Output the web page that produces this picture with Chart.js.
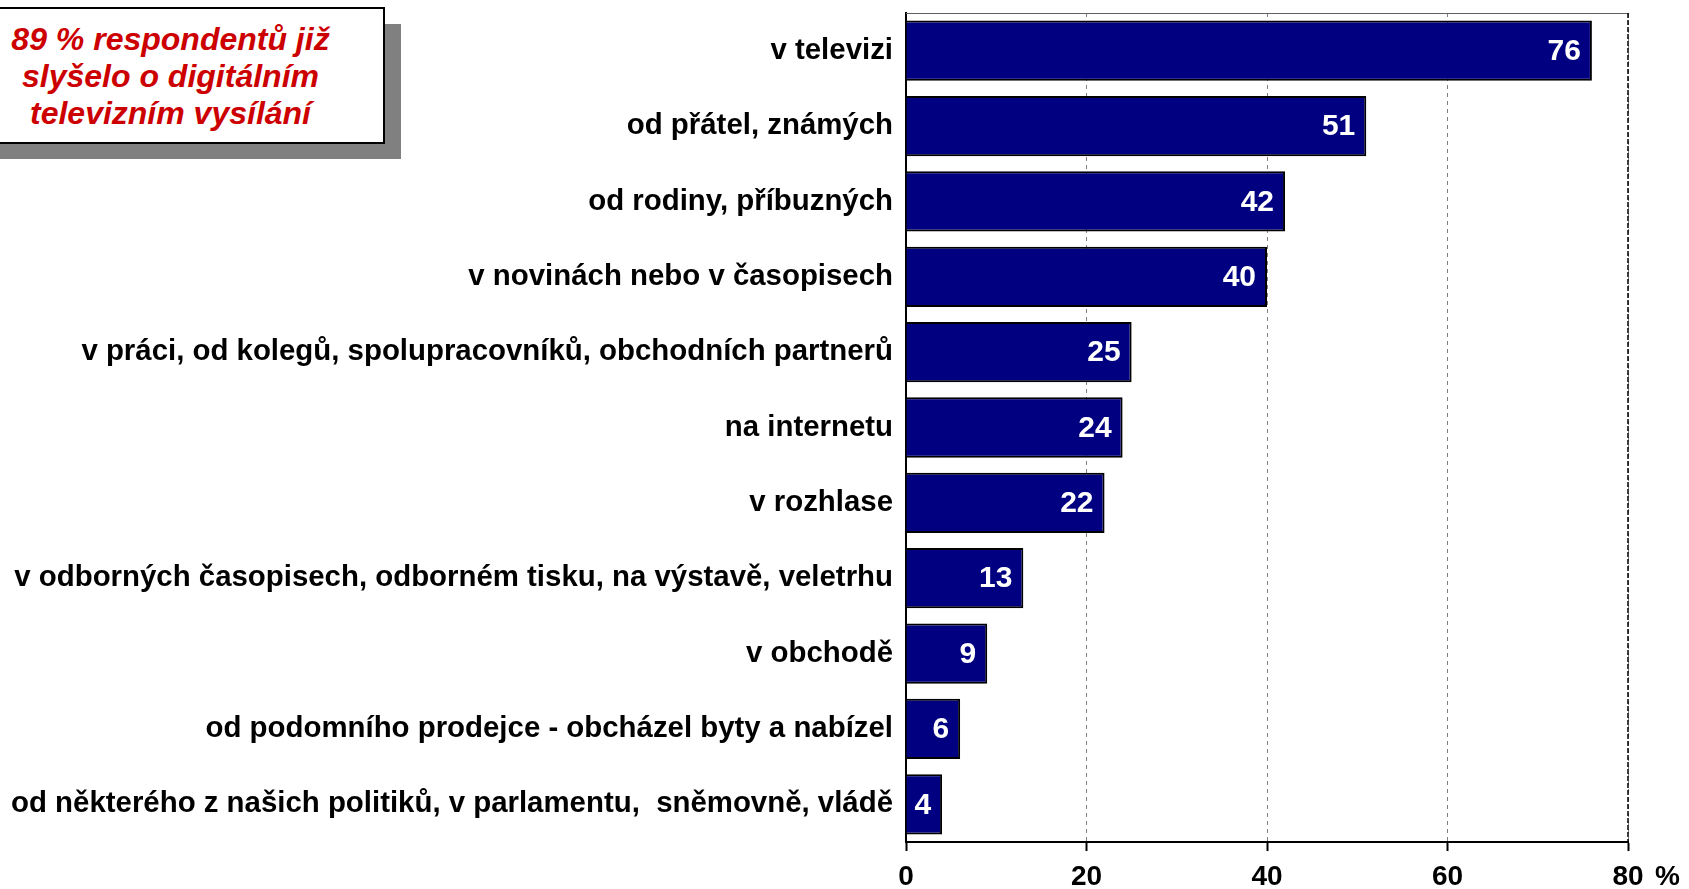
<!DOCTYPE html>
<html>
<head>
<meta charset="utf-8">
<script src="https://cdn.jsdelivr.net/npm/chart.js@4.4.0/dist/chart.umd.min.js"></script>
<style>
  html, body { margin: 0; padding: 0; background: #fff; }
  #wrap { position: relative; width: 1689px; height: 889px; }
  #note-shadow { position: absolute; left: 0px; top: 24px; width: 401px; height: 135px; background: #808080; }
  #note { position: absolute; left: -2px; top: 7px; width: 387px; height: 137px; background: #fff; border: 2px solid #000; box-sizing: border-box;
    font-family: "Liberation Sans", Arial, sans-serif; font-weight: bold; font-style: italic; color: #cc0000; font-size: 32px; line-height: 37px;
    text-align: center; padding-top: 12px; padding-right: 42px; white-space: nowrap; }
</style>
</head>
<body>
<div id="wrap">
  <canvas id="c" width="1689" height="889"></canvas>
  <div id="note-shadow"></div>
  <div id="note">89 % respondentů již<br>slyšelo o digitálním<br>televizním vysílání</div>
</div>
<script>
const categories = [
  "v televizi",
  "od přátel, známých",
  "od rodiny, příbuzných",
  "v novinách nebo v časopisech",
  "v práci, od kolegů, spolupracovníků, obchodních partnerů",
  "na internetu",
  "v rozhlase",
  "v odborných časopisech, odborném tisku, na výstavě, veletrhu",
  "v obchodě",
  "od podomního prodejce - obcházel byty a nabízel",
  "od některého z našich politiků, v parlamentu,  sněmovně, vládě"
];
const values = [76, 51, 42, 40, 25, 24, 22, 13, 9, 6, 4];
const xTicks = [0, 20, 40, 60, 80];
const unitLabel = "%";

const FONT = '"Liberation Sans", Arial, sans-serif';

const valueLabels = {
  id: 'valueLabels',
  afterDatasetsDraw(chart) {
    const ctx = chart.ctx;
    const meta = chart.getDatasetMeta(0);
    ctx.save();
    ctx.font = 'bold 30px ' + FONT;
    ctx.fillStyle = '#fff';
    ctx.textAlign = 'right';
    ctx.textBaseline = 'middle';
    meta.data.forEach((bar, i) => {
      ctx.fillText(String(values[i]), bar.x - 11, bar.y + 1);
    });
    ctx.restore();
  }
};

const frame = {
  id: 'frame',
  afterDraw(chart) {
    const ctx = chart.ctx;
    const a = chart.chartArea;
    const xs = chart.scales.x;
    ctx.save();
    // top border
    ctx.strokeStyle = '#606060';
    ctx.lineWidth = 1;
    ctx.beginPath();
    ctx.moveTo(a.left, a.top + 0.5);
    ctx.lineTo(a.right, a.top + 0.5);
    ctx.stroke();
    // right border
    ctx.strokeStyle = '#000';
    ctx.lineWidth = 1.5;
    ctx.setLineDash([5, 2]);
    ctx.beginPath();
    ctx.moveTo(a.right, a.top);
    ctx.lineTo(a.right, a.bottom);
    ctx.stroke();
    ctx.setLineDash([]);
    // unit label after the last tick
    ctx.font = 'bold 28px ' + FONT;
    ctx.fillStyle = '#000';
    ctx.textAlign = 'left';
    ctx.textBaseline = 'middle';
    ctx.fillText(unitLabel, xs.getPixelForValue(xTicks[xTicks.length - 1]) + 27, 877);
    ctx.restore();
  }
};

new Chart(document.getElementById('c'), {
  type: 'bar',
  data: {
    labels: categories,
    datasets: [{
      data: values,
      backgroundColor: '#000080',
      borderColor: '#000000',
      borderWidth: 2,
      borderSkipped: 'start',
      barPercentage: 0.8,
      categoryPercentage: 1.0
    }]
  },
  options: {
    indexAxis: 'y',
    responsive: false,
    animation: false,
    devicePixelRatio: 1,
    layout: { padding: { top: 13, right: 61, left: 0, bottom: 0 } },
    plugins: { legend: { display: false }, tooltip: { enabled: false } },
    scales: {
      x: {
        min: 0, max: 80,
        afterBuildTicks(scale) { scale.ticks = xTicks.map(v => ({ value: v })); },
        afterFit(scale) { scale.height = 47; scale.paddingLeft = 0; scale.paddingRight = 0; },
        grid: {
          color: '#808080',
          lineWidth: 1,
          drawTicks: true,
          tickLength: 9,
          tickColor: '#000',
          tickWidth: 2,
          tickBorderDash: []
        },
        border: { display: true, color: '#000', width: 2, dash: [4, 4] },
        ticks: {
          color: '#000',
          font: { family: FONT, weight: 'bold', size: 28 },
          padding: 9,
          maxRotation: 0
        }
      },
      y: {
        afterFit(scale) { scale.width = 906; scale.paddingTop = 0; scale.paddingBottom = 0; },
        grid: { display: false, drawTicks: false },
        border: { display: true, color: '#000', width: 2 },
        ticks: {
          color: '#000',
          font: { family: FONT, weight: 'bold', size: 29.4 },
          padding: 13,
          autoSkip: false
        }
      }
    }
  },
  plugins: [valueLabels, frame]
});
</script>
</body>
</html>
